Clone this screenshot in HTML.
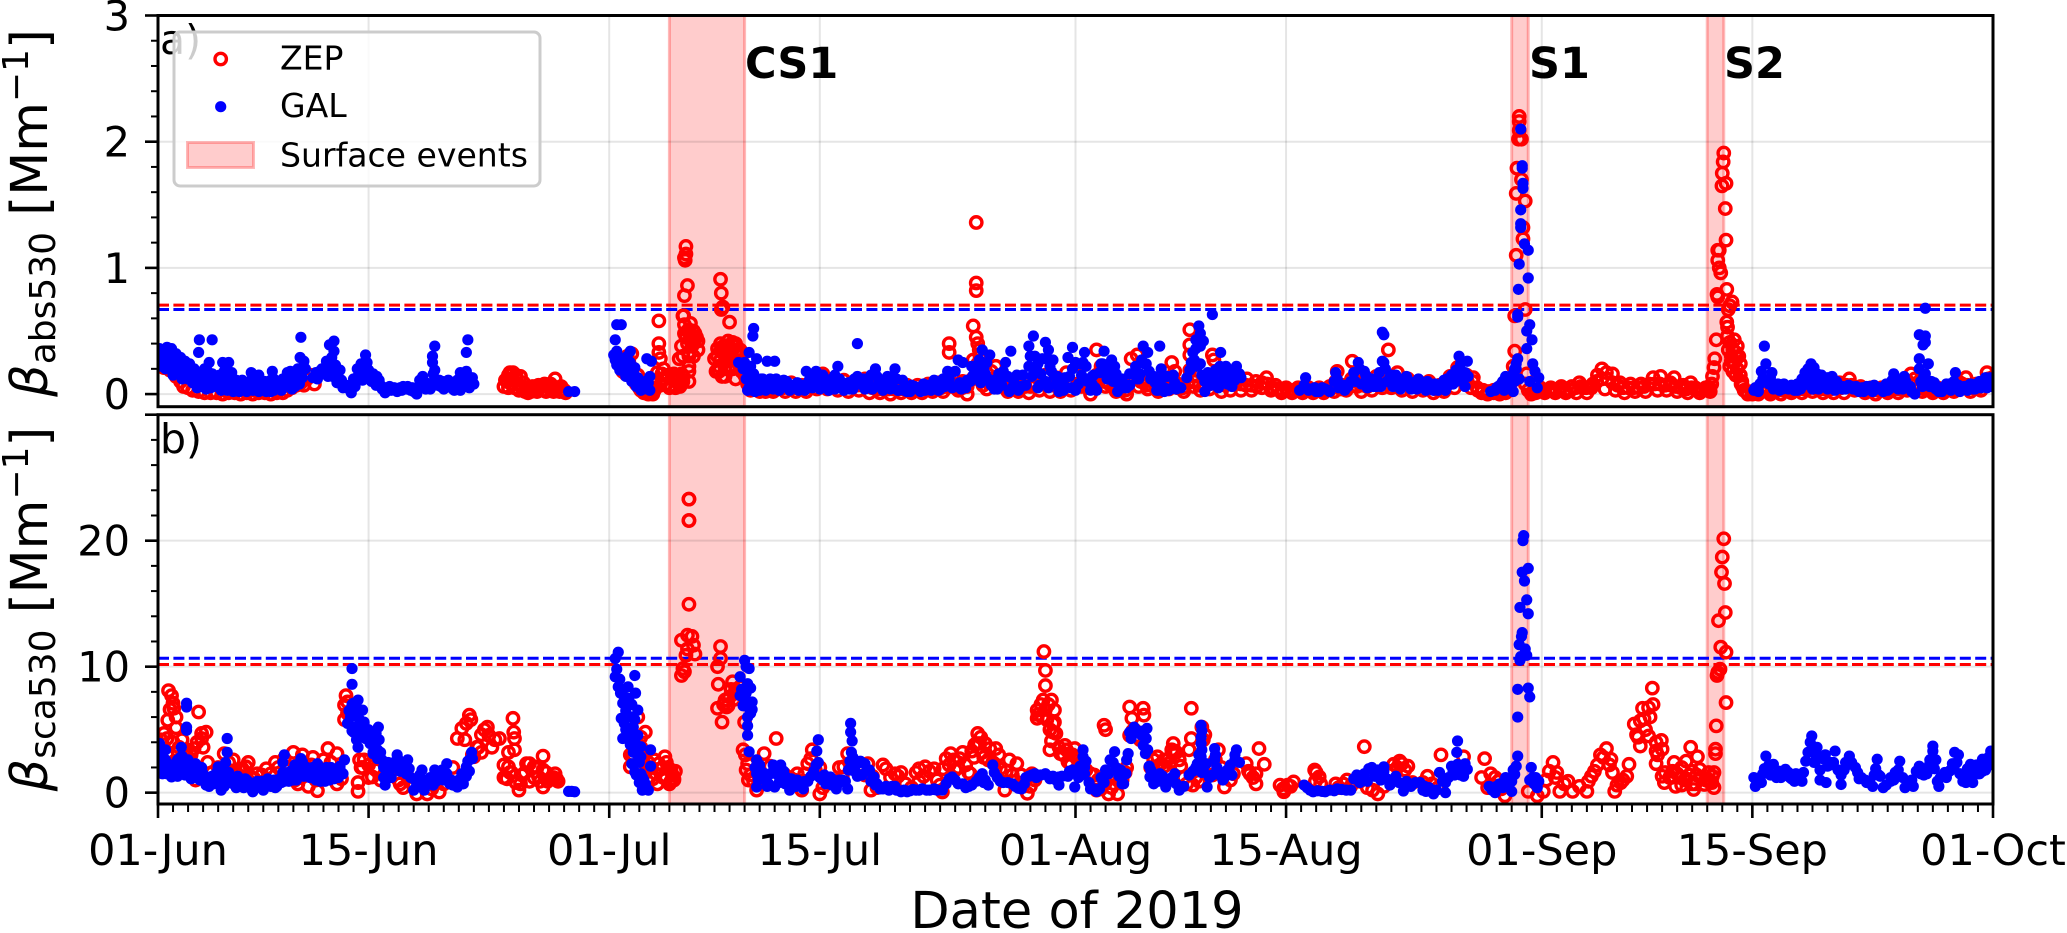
<!DOCTYPE html>
<html lang="en">
<head>
<meta charset="utf-8">
<title>Absorption and scattering coefficients, 2019</title>
<style>
html,body{margin:0;padding:0;background:#fff;width:2067px;height:933px;overflow:hidden}
svg{display:block}
text{font-family:"DejaVu Sans","Liberation Sans",sans-serif;fill:#000}
</style>
</head>
<body>
<svg id="chart" xmlns="http://www.w3.org/2000/svg" width="2067" height="933" viewBox="0 0 2067 933">
  <defs>
    <clipPath id="clipA"><rect x="158" y="15.5" width="1835" height="391"/></clipPath>
    <clipPath id="clipB"><rect x="158" y="414.7" width="1835" height="389.3"/></clipPath>
  </defs>
  <g id="panelA"></g>
  <g id="panelB"></g>
</svg>
<script>
const xTickDays = [0,14,30,44,61,75,92,106,122];
const xTickLabels = ["01-Jun","15-Jun","01-Jul","15-Jul","01-Aug","15-Aug","01-Sep","15-Sep","01-Oct"];
const absTicks = [0,1,2,3];
const scaTicks = [0,10,20,30];
const scaTickLabels = ["0","10","20",""];
const eventStarts = [34,90,103];
const eventEnds = [39,91.1,104.1];
const eventLabels = ["CS1","S1","S2"];
const absThresholds = [0.705,0.67];
const scaThresholds = [10.17,10.67];

const zepAbsDays = [
0.1,0.4,0.8,1.2,1.5,1.7,2.0,2.3,2.7,3.1,
3.5,3.9,4.3,4.7,5.1,5.5,5.9,6.3,6.7,7.1,
7.5,7.9,8.3,8.6,8.9,9.2,9.5,9.7,9.9,10.1,
10.4,23.0,23.1,23.3,23.4,23.6,23.5,23.8,24.0,24.1,
24.4,24.7,25.0,25.3,25.6,25.9,26.2,26.4,26.6,26.9,
27.0,25.1,25.7,30.9,31.2,31.5,31.4,31.7,32.0,32.3,
33.3,33.3,33.3,33.4,33.5,33.1,32.9,33.7,34.1,34.3,
34.6,34.65,34.8,34.9,35.0,35.3,35.7,35.8,35.5,35.1,
35.1,35.0,35.05,35.2,35.0,34.95,35.3,35.3,35.3,35.3,
34.9,34.8,34.7,35.6,35.9,37.4,37.45,37.5,37.45,37.55,
38.0,37.0,37.2,37.4,37.6,37.8,38.0,38.3,38.6,37.1,
37.3,37.5,37.7,38.2,38.4,38.7,39.0,39.2,39.4,39.7,
40.0,40.3,40.6,41.0,41.4,41.7,42.1,42.4,42.8,43.1,
43.5,43.8,44.2,44.5,44.9,45.2,45.6,45.9,46.3,46.6,
47.0,47.3,47.7,48.0,48.4,48.7,49.1,49.4,49.8,50.1,
50.5,50.8,51.2,51.5,51.9,52.2,52.6,52.6,52.9,53.2,
53.5,53.8,54.2,54.2,54.4,54.5,54.6,54.4,54.4,54.4,
54.4,54.7,54.9,55.1,55.4,55.7,55.9,56.2,56.5,56.9,
57.2,57.6,57.9,58.3,58.6,59.0,59.3,59.7,60.0,60.4,
60.7,61.1,61.4,61.8,62.0,62.4,62.4,62.7,63.0,63.4,
63.7,64.1,64.4,64.7,64.8,65.1,65.2,65.5,65.8,66.1,
66.5,66.9,67.2,67.4,67.6,67.8,68.2,68.6,68.6,68.6,
68.6,68.9,69.3,69.6,69.9,70.1,70.2,70.4,70.7,71.0,
71.3,71.7,72.0,72.4,72.7,73.0,73.4,73.7,74.0,74.3,
74.7,75.0,75.4,75.8,76.1,76.5,76.8,77.2,77.5,77.9,
78.2,78.4,78.7,79.0,79.4,79.7,80.0,80.4,80.7,81.0,
81.4,81.8,82.0,82.4,82.7,83.1,83.4,83.8,84.1,84.5,
84.8,85.2,85.5,85.9,86.2,86.4,86.7,87.0,87.3,87.45,
87.7,88.0,88.4,88.8,89.2,89.6,89.9,90.1,90.2,90.2,
90.3,90.3,90.35,90.5,90.5,90.5,90.45,90.65,90.65,90.9,
90.75,90.75,90.9,91.0,90.9,91.1,91.3,91.6,91.9,92.2,
92.6,92.9,93.3,93.6,94.0,94.3,94.5,94.7,95.0,95.4,
95.7,96.0,96.3,96.2,96.7,96.9,97.2,97.5,97.9,98.2,
98.6,98.9,99.4,99.7,99.9,100.3,100.8,100.6,101.0,101.4,
101.9,101.7,102.2,102.5,102.9,103.2,103.3,103.45,103.5,103.6,
104.1,104.06,104.0,104.25,103.98,104.2,104.25,103.7,103.8,103.7,
103.8,103.9,104.3,103.65,103.7,104.65,104.5,104.4,104.3,104.35,
104.35,104.8,105.0,104.5,104.6,105.0,105.2,104.4,104.7,105.3,
105.45,105.7,106.0,106.4,106.8,107.2,107.5,107.9,108.3,108.6,
109.0,109.3,109.7,110.0,110.4,110.7,111.1,111.4,111.8,112.1,
112.45,112.8,113.2,113.5,113.9,114.2,114.6,115.0,115.3,115.7,
116.0,116.3,116.55,116.9,117.3,117.6,118.0,118.3,118.7,119.0,
119.4,119.8,120.2,120.5,120.9,121.2,121.6,121.9
];
const zepAbsVals = [
.24,.21,.19,.14,.10,.06,.05,.03,.02,.01,
.01,.01,.0,.01,.01,.0,.01,.0,.01,.01,
.0,.01,.01,.03,.05,.07,.09,.07,.12,.15,
.08,.06,.11,.15,.17,.17,.08,.12,.03,.14,
.02,.05,.03,.07,.03,.07,.04,.12,.05,.02,
.03,.06,.08,.18,.30,.32,.22,.12,.05,.01,
.58,.40,.33,.28,.16,.05,.0,.12,.07,.16,
.11,.28,.38,.62,.55,.51,.48,.45,.4,1.17,
1.11,1.08,1.06,.86,.78,.62,.18,.10,.30,.22,
.14,.08,.06,.30,.35,.91,.8,.68,.67,.69,
.57,.28,.36,.40,.33,.26,.35,.38,.30,.18,
.22,.14,.14,.20,.12,.25,.15,.08,.03,.10,
.02,.08,.03,.03,.08,.02,.09,.02,.07,.02,
.10,.04,.16,.04,.12,.03,.11,.02,.10,.03,
.12,.01,.09,.01,.08,.0,.08,.01,.07,.01,
.07,.01,.08,.02,.09,.02,.40,.33,.08,.03,
.10,.0,.54,.27,.45,.40,.35,.15,.82,.88,
1.36,.2,.12,.04,.18,.22,.06,.12,.02,.10,
.02,.11,.01,.14,.03,.15,.02,.13,.02,.17,
.03,.15,.06,.08,.0,.35,.15,.22,.06,.12,
.02,.05,.0,.28,.14,.31,.06,.12,.04,.10,
.02,.13,.04,.25,.18,.08,.02,.51,.39,.31,
.19,.10,.03,.12,.04,.31,.27,.10,.02,.13,
.03,.14,.03,.12,.03,.10,.05,.13,.03,.07,
.01,.05,.01,.05,.01,.05,.01,.05,.01,.06,
.02,.18,.07,.03,.26,.10,.02,.12,.03,.14,
.05,.35,.05,.17,.03,.12,.02,.10,.03,.10,
.01,.07,.02,.14,.05,.21,.12,.15,.05,.13,
.05,.01,.0,.01,.0,.01,.08,.22,.34,.62,
1.10,1.59,1.79,2.20,2.16,2.09,2.02,2.02,1.70,1.53,
1.32,1.23,.67,.16,.08,.03,.0,.01,.05,.01,
.05,.01,.06,.01,.06,.01,.09,.05,.01,.08,
.15,.20,.17,.04,.16,.03,.09,.01,.08,.02,
.08,.02,.13,.03,.14,.03,.13,.07,.02,.07,
.09,.01,.05,.01,.05,.02,.08,.21,.28,.43,
1.91,1.84,1.75,1.67,1.65,1.47,1.22,1.14,1.14,1.06,
1.0,.96,.83,.79,.77,.73,.70,.67,.57,.53,
.46,.43,.38,.41,.26,.29,.24,.35,.18,.10,
.03,.0,.0,.0,.03,.0,.04,.0,.05,.01,
.06,.01,.08,.02,.07,.01,.07,.01,.09,.01,
.12,.03,.06,.01,.05,.0,.05,.01,.06,.01,
.07,.03,.16,.08,.02,.06,.01,.05,.01,.05,
.02,.09,.13,.02,.08,.03,.17,.10
];
const zepAbsExtraDays = [
23.2,23.3,23.5,23.7,23.8,23.9,24.2,24.3,24.5,24.6,
24.8,24.9,25.2,25.4,25.5,25.8,26.0,26.1,26.3,26.5,
26.7,26.8,27.1,31.0,31.1,31.3,31.5,31.6,31.8,31.9,
32.1,32.2,32.4,32.6,32.7,32.8,33.0,33.0,33.2,33.4,
33.5,33.6,33.8,33.9,34.0,34.2,34.4,34.5,34.7,34.8,
34.9,34.9,35.1,35.2,35.3,35.4,35.5,35.6,35.9,35.0,
35.4,35.6,35.2,37.2,37.3,37.4,37.6,37.7,37.8,37.9,
38.0,38.1,38.2,38.4,38.5,38.6,38.7,38.8,38.8,37.6,
37.9,38.2,37.4,39.1,39.3,39.5,39.6,39.9,40.1,40.4,
40.7,40.9,39.2,41.2,41.55,41.9,42.25,42.6,42.95,43.3,
43.65,44.0,44.35,44.7,45.05,45.4,45.75,46.1,46.45,46.8,
47.15,47.5,47.85,48.2,48.55,48.9,49.25,49.6,49.95,50.3,
50.65,51.0,51.35,51.7,52.05,52.4,52.75,53.1,53.45,53.8,
54.15,54.5,54.65,54.85,55.2,55.55,55.9,56.25,56.6,56.95,
57.3,57.65,58.0,58.35,58.7,59.05,59.4,59.75,60.1,60.45,
60.8,61.15,61.5,61.85,62.2,62.55,62.9,63.25,63.6,63.95,
64.3,64.65,65.0,65.35,65.7,66.05,66.4,66.75,67.1,67.45,
67.8,68.15,68.5,68.85,69.2,69.55,69.9,70.25,70.6,70.95,
71.3,71.65,72.0,72.35,72.7,73.05,73.4,73.75,74.1,74.45,
74.8,75.15,75.5,75.85,76.2,76.55,76.9,77.25,77.6,77.95,
78.3,78.65,79.0,79.35,79.7,80.05,80.4,80.75,81.1,81.45,
81.8,82.15,82.5,82.85,83.2,83.55,83.9,84.25,84.6,84.95,
85.3,85.65,86.0,86.35,86.7,87.05,87.4,87.75,88.1,88.45,
88.8,89.15,89.5,91.45,91.8,92.15,92.5,92.85,93.2,93.55,
93.9,94.25,94.6,94.95,95.3,95.65,96.0,96.35,96.7,97.05,
97.4,97.75,98.1,98.45,98.8,99.15,99.5,99.85,100.2,100.55,
100.9,101.25,101.6,101.95,102.3,102.65,103.0,103.15,103.35,104.6,
104.8,105.0,104.5,104.7,104.9,105.1,105.2,105.25,104.9,105.35,
105.6,106.0,106.3,106.65,107.0,107.35,107.7,108.05,108.4,108.75,
109.1,109.45,109.8,110.15,110.5,110.85,111.2,111.55,111.9,112.25,
112.6,112.95,113.3,113.65,114.0,114.35,114.7,115.05,115.4,115.75,
116.1,116.45,116.8,117.15,117.5,117.85,118.2,118.55,118.9,119.25,
119.6,119.95,120.3,120.65,121.0,121.35,121.7,121.95
];
const zepAbsExtraVals = [
.10,.05,.12,.05,.15,.08,.05,.09,.05,.01,
.02,.06,.02,.05,.07,.02,.05,.08,.02,.05,
.02,.06,.01,.24,.16,.26,.18,.12,.08,.15,
.03,.06,.02,.0,.01,.04,.03,.10,.17,.07,
.12,.20,.08,.15,.05,.12,.05,.14,.07,.16,
.10,.30,.45,.40,.33,.45,.38,.50,.42,.48,
.56,.43,.5,.30,.18,.27,.32,.20,.38,.30,
.22,.33,.28,.40,.35,.24,.35,.18,.30,.38,
.42,.41,.34,.12,.06,.04,.10,.03,.07,.02,
.06,.02,.1,.05,.05,.05,.05,.05,.05,.06,
.08,.10,.08,.08,.06,.08,.06,.06,.07,.07,
.06,.05,.04,.04,.04,.04,.04,.04,.04,.03,
.04,.04,.05,.05,.05,.06,.06,.05,.05,.06,
.12,.24,.30,.07,.09,.12,.10,.07,.06,.05,
.05,.06,.06,.08,.08,.08,.07,.07,.09,.10,
.08,.08,.10,.05,.05,.10,.10,.08,.06,.03,
.03,.13,.16,.10,.07,.07,.06,.07,.09,.12,
.05,.05,.09,.06,.07,.08,.08,.14,.08,.07,
.08,.09,.08,.07,.07,.06,.09,.08,.05,.04,
.03,.03,.03,.03,.03,.03,.03,.03,.03,.04,
.10,.04,.07,.12,.06,.07,.06,.08,.08,.10,
.08,.10,.10,.07,.06,.06,.06,.06,.05,.04,
.05,.08,.10,.15,.16,.10,.10,.03,.03,.02,
.03,.02,.03,.02,.03,.03,.03,.03,.04,.03,
.03,.05,.06,.05,.05,.10,.12,.12,.09,.07,
.05,.05,.05,.05,.06,.08,.08,.08,.07,.09,
.06,.05,.04,.05,.04,.03,.03,.05,.14,.30,
.25,.2,.22,.35,.33,.30,.15,.08,.15,.06,
.02,.02,.02,.02,.02,.02,.03,.03,.03,.03,
.04,.04,.05,.05,.04,.04,.04,.05,.05,.07,
.07,.04,.04,.03,.03,.03,.03,.03,.04,.04,
.05,.09,.12,.05,.04,.03,.03,.03,.03,.03,
.06,.08,.07,.05,.05,.08,.12,.13
];

const galAbsDays = [
0.1,0.3,0.2,0.6,0.9,0.7,1.2,1.1,1.5,1.4,
1.8,1.7,2.1,2.0,2.4,2.3,2.7,2.7,2.75,3.6,
2.9,3.1,3.4,3.2,3.7,3.5,3.9,4.3,4.7,4.6,
4.2,4.6,5.0,5.0,5.5,5.4,5.6,5.9,6.2,6.7,
6.5,6.3,6.9,6.7,7.2,7.6,7.5,7.5,7.9,8.2,
8.3,8.6,8.8,9.0,8.9,9.5,9.45,9.7,9.3,9.6,
10.5,10.75,10.6,11.4,11.7,11.7,11.55,11.8,12.1,11.4,
11.3,11.9,12.3,12.85,13.1,13.25,13.8,13.9,14.0,13.6,
14.55,14.8,15.1,15.5,15.9,16.3,16.8,17.2,17.6,17.8,
18.4,18.25,18.25,18.4,18.4,18.8,19.3,19.7,20.1,20.6,
20.5,20.7,20.2,20.85,20.35,27.3,27.7,30.5,30.8,30.4,
30.4,30.7,31.1,31.5,31.8,32.1,32.5,30.5,30.9,31.4,
32.5,32.8,32.7,32.3,39.6,39.55,39.3,39.8,38.6,38.9,
39.1,39.4,39.7,40.0,40.5,39.2,39.6,40.2,40.5,40.6,
41.0,41.6,42.3,43.1,43.75,44.4,45.2,45.3,46.5,46.5,
47.7,47.2,48.5,49.0,49.5,50.3,51.6,52.5,53.2,53.5,
54.1,54.0,54.8,55.3,55.0,56.35,56.7,57.4,57.9,57.9,
58.2,58.0,59.0,59.2,58.5,59.5,59.0,59.6,60.8,60.5,
61.6,60.8,61.3,62.9,63.4,62.8,63.6,62.0,62.1,63.2,
64.2,64.8,65.5,65.8,65.7,66.6,66.2,66.7,66.5,67.5,
67.9,68.6,68.8,69.0,69.2,69.3,69.5,70.1,69.3,69.6,
69.9,70.3,70.65,71.0,71.1,71.7,71.8,41.3,42.0,42.7,
43.4,44.1,44.8,45.5,46.0,46.9,47.4,48.1,48.8,49.2,
49.8,50.6,51.0,52.0,52.8,53.4,55.6,56.0,56.6,57.3,
58.6,59.9,60.3,61.0,62.4,63.8,64.6,65.2,66.9,67.3,
70.5,71.4,76.3,75.9,76.6,77.0,77.4,77.8,78.3,78.6,
78.9,79.8,80.2,80.6,81.0,81.4,81.4,81.5,81.5,81.9,
82.3,82.7,83.0,83.4,83.8,84.0,84.4,84.8,85.2,85.6,
85.9,86.2,86.5,87.05,86.6,86.9,86.3,88.6,89.0,89.3,
89.6,89.9,90.1,90.4,90.3,90.2,90.6,90.7,90.7,90.75,
90.75,90.6,90.6,90.6,90.85,91.1,90.5,91.1,90.45,90.4,
90.4,91.2,91.0,91.35,91.0,91.4,91.55,91.2,91.8,91.7,
106.1,106.4,106.6,106.9,106.8,107.3,107.5,107.9,108.3,108.7,
109.2,109.5,109.9,110.2,110.7,110.4,111.0,111.5,111.8,112.2,
112.6,113.0,113.4,113.8,114.3,114.7,115.0,115.4,115.3,115.7,
116.1,116.4,116.8,117.1,117.5,117.35,117.5,117.1,117.1,117.7,
117.5,117.5,117.9,118.4,118.8,119.1,119.5,119.5,119.9,120.4,
120.7,121.1,121.5,121.9,122.0,106.2,107.0,108.0,109.0,110.0,
111.0,112.0,113.0,114.0,115.0,116.0,118.1,119.0,120.0,121.0
];
const galAbsVals = [
.36,.30,.22,.37,.36,.26,.32,.22,.29,.20,
.26,.16,.24,.12,.20,.09,.16,.33,.43,.43,
.06,.20,.25,.04,.15,.10,.06,.25,.25,.14,
.03,.03,.05,.02,.08,.02,.11,.02,.17,.15,
.07,.03,.03,.02,.02,.18,.11,.02,.05,.03,
.12,.17,.18,.10,.04,.45,.29,.26,.20,.13,
.17,.18,.12,.39,.42,.34,.29,.23,.19,.19,
.14,.09,.05,.01,.06,.20,.31,.25,.19,.11,
.14,.07,.01,.03,.02,.06,.03,.0,.14,.04,
.38,.30,.25,.19,.12,.06,.11,.03,.17,.43,
.33,.09,.07,.10,.14,.02,.02,.55,.55,.43,
.27,.19,.14,.10,.06,.03,.06,.34,.24,.34,
.28,.26,.14,.05,.52,.46,.33,.28,.25,.20,
.12,.07,.02,.05,.26,.03,.16,.12,.04,.08,
.26,.11,.07,.18,.18,.06,.22,.12,.40,.14,
.20,.10,.14,.20,.11,.06,.11,.18,.27,.25,
.22,.10,.35,.31,.16,.25,.34,.06,.22,.38,
.46,.30,.41,.35,.24,.27,.10,.14,.37,.29,
.33,.20,.24,.34,.27,.24,.22,.03,.14,.14,
.05,.16,.38,.33,.24,.38,.14,.20,.03,.15,
.05,.19,.33,.43,.54,.48,.42,.63,.24,.02,
.12,.19,.33,.22,.08,.22,.13,.05,.04,.07,
.08,.05,.10,.06,.04,.09,.05,.05,.08,.03,
.02,.05,.03,.04,.06,.04,.04,.10,.02,.05,
.07,.02,.06,.03,.03,.02,.07,.12,.02,.04,
.05,.06,.13,.03,.04,.02,.05,.03,.17,.06,
.03,.25,.18,.08,.06,.49,.26,.47,.25,.13,
.15,.07,.14,.05,.12,.06,.10,.03,.06,.03,
.11,.15,.30,.26,.17,.06,.10,.02,.05,.08,
.14,.05,.02,.28,.20,.10,2.10,1.81,1.79,1.67,
1.63,1.46,1.35,1.32,1.19,1.14,1.03,.92,.83,.63,
.61,.55,.50,.43,.36,.24,.18,.10,.13,.05,
.03,.02,.18,.24,.38,.17,.06,.04,.06,.05,
.04,.17,.24,.12,.13,.04,.13,.03,.06,.04,
.06,.03,.02,.06,.04,.02,.04,.16,.06,.04,
.14,.05,.0,.47,.46,.39,.41,.28,.20,.24,
.68,.16,.10,.02,.05,.08,.17,.06,.03,.07,
.04,.10,.13,.06,.10,.05,.10,.04,.03,.04,
.04,.04,.03,.02,.03,.04,.09,.05,.04,.05
];
const galAbsExtraDays = [
0.2,0.5,0.8,1.0,1.3,1.6,1.9,2.2,2.5,2.6,
2.8,3.0,3.2,3.3,3.5,3.6,3.8,4.0,4.1,4.4,
4.4,4.8,4.9,5.2,5.2,5.7,6.0,6.1,6.4,6.6,
6.8,7.0,7.1,7.3,7.4,7.7,7.7,8.0,8.1,8.4,
8.5,8.7,8.8,9.1,9.2,9.4,9.1,9.6,9.8,9.4,
10.3,10.9,11.1,11.2,11.5,11.6,11.9,12.0,12.2,12.5,
12.7,12.9,13.0,13.2,13.4,13.5,13.6,13.7,14.1,14.2,
14.3,14.5,14.7,14.9,15.2,15.4,15.7,15.8,16.1,16.2,
16.5,16.6,16.9,17.0,17.3,17.4,17.5,17.8,18.0,18.1,
18.3,18.5,18.6,18.7,18.9,19.0,19.1,19.5,19.6,19.9,
20.0,20.3,20.4,20.5,20.6,20.9,21.0,20.1,20.7,20.8,
30.3,30.5,30.6,30.8,30.9,31.0,31.2,31.2,31.3,31.4,
31.6,31.7,31.7,31.9,32.0,32.2,32.3,32.4,32.6,32.7,
39.0,39.2,39.4,39.5,39.7,39.9,40.1,39.3,39.5,39.8,
40.0,40.3,40.4,40.7,40.9,40.8,41.1,41.3,41.5,41.8,
42.0,42.1,42.5,42.6,42.9,43.0,43.3,43.5,43.6,43.9,
44.0,44.2,44.4,44.6,44.8,45.0,45.0,45.4,45.6,45.7,
45.9,46.2,46.3,46.7,46.9,47.0,47.4,47.5,47.8,47.9,
48.2,48.3,48.7,48.8,49.1,49.2,49.6,49.8,50.0,50.1,
50.5,50.7,50.9,51.3,51.4,51.8,51.9,52.2,52.3,52.6,
52.8,53.0,53.1,53.3,53.7,53.8,54.2,54.4,54.5,54.6,
54.7,54.9,55.1,55.2,55.4,55.6,55.8,55.9,56.1,56.2,
56.5,56.8,56.9,57.1,57.2,57.5,57.7,58.0,58.1,58.3,
58.4,58.5,58.7,58.8,59.1,59.3,59.2,59.4,59.7,59.8,
60.1,60.2,60.3,60.6,60.7,61.0,61.2,61.4,61.5,61.7,
61.8,62.1,62.2,62.3,62.6,62.7,63.0,63.1,63.3,63.5,
63.7,63.9,64.1,64.4,64.6,65.0,65.1,65.3,65.4,65.6,
65.9,66.0,66.3,66.4,66.7,66.9,67.1,67.2,67.6,67.7,
68.0,68.4,68.7,68.9,69.0,69.1,69.3,69.4,69.6,69.8,
70.0,70.2,70.4,70.6,70.8,70.9,71.2,71.3,71.5,71.6,
71.9,72.0,76.2,76.5,76.9,77.2,77.6,77.9,78.2,78.4,
78.5,78.8,79.1,79.3,79.5,79.6,79.9,80.0,80.3,80.4,
80.7,80.8,81.1,81.2,81.3,81.6,81.7,82.0,82.1,82.5,
82.6,82.9,83.2,83.3,83.6,83.7,84.2,84.3,84.6,84.9,
85.1,85.4,85.5,85.7,85.8,86.0,86.1,86.3,86.6,86.7,
86.9,87.1,88.9,89.1,89.4,89.5,89.7,90.0,90.1,90.2,
90.3,90.5,106.5,106.7,107.1,107.2,107.4,107.7,107.8,108.1,
108.4,108.6,108.8,109.0,109.3,109.4,109.7,109.8,110.0,110.1,
110.3,110.5,110.6,110.9,111.1,111.3,111.4,111.6,112.0,112.4,
112.7,112.9,113.1,113.3,113.6,113.9,114.1,114.5,114.8,114.9,
115.1,115.3,115.5,115.6,115.9,116.0,116.2,116.5,116.6,117.2,
117.3,117.4,117.6,117.8,118.0,118.2,118.5,118.6,118.9,119.2,
119.4,119.7,119.8,120.1,120.3,120.5,120.8,120.9,121.2,121.3,
121.6,121.8
];
const galAbsExtraVals = [
.28,.20,.30,.15,.26,.12,.20,.14,.12,.05,
.10,.14,.12,.18,.05,.16,.12,.10,.15,.08,
.18,.07,.17,.05,.11,.05,.06,.10,.12,.12,
.08,.06,.10,.05,.07,.03,.12,.09,.06,.06,
.10,.07,.12,.14,.10,.15,.06,.19,.20,.08,
.13,.20,.16,.26,.21,.14,.16,.13,.11,.07,
.04,.05,.12,.13,.15,.24,.21,.16,.13,.10,
.16,.07,.11,.04,.05,.06,.05,.03,.05,.03,
.04,.06,.05,.02,.05,.11,.05,.09,.08,.04,
.16,.08,.07,.11,.10,.04,.07,.08,.04,.11,
.07,.14,.06,.18,.12,.13,.08,.03,.05,.08,
.31,.23,.30,.26,.20,.27,.22,.30,.17,.25,
.17,.21,.10,.13,.08,.09,.04,.10,.09,.03,
.25,.18,.22,.16,.12,.08,.12,.05,.03,.05,
.03,.07,.03,.12,.04,.07,.12,.03,.08,.10,
.03,.07,.09,.03,.07,.03,.11,.05,.13,.10,
.04,.15,.10,.03,.12,.15,.04,.09,.03,.07,
.09,.04,.12,.08,.12,.04,.15,.04,.14,.08,
.03,.10,.04,.13,.12,.03,.03,.05,.02,.07,
.04,.02,.08,.07,.03,.06,.03,.12,.06,.12,
.05,.18,.06,.09,.05,.11,.15,.22,.14,.27,
.09,.20,.25,.12,.07,.11,.04,.16,.07,.18,
.14,.05,.10,.15,.03,.15,.07,.30,.14,.30,
.20,.05,.16,.28,.28,.22,.05,.18,.08,.14,
.10,.03,.13,.14,.05,.25,.08,.15,.25,.22,
.10,.08,.15,.05,.17,.24,.20,.12,.17,.10,
.16,.06,.12,.05,.16,.22,.12,.16,.27,.24,
.18,.12,.09,.03,.12,.05,.14,.03,.09,.04,
.05,.13,.25,.27,.36,.22,.38,.15,.10,.17,
.07,.12,.10,.22,.17,.10,.16,.09,.18,.11,
.16,.13,.07,.03,.05,.02,.04,.02,.10,.12,
.05,.07,.06,.10,.17,.10,.20,.08,.15,.05,
.12,.06,.10,.17,.06,.20,.10,.15,.06,.12,
.04,.07,.10,.04,.08,.04,.09,.03,.07,.08,
.03,.05,.11,.12,.07,.15,.08,.19,.24,.12,
.17,.14,.03,.06,.10,.03,.08,.12,.16,.20,
.24,.12,.08,.12,.08,.13,.04,.08,.03,.08,
.04,.07,.03,.08,.12,.07,.20,.10,.14,.21,
.16,.08,.15,.12,.05,.14,.08,.10,.06,.07,
.04,.06,.02,.05,.06,.03,.07,.05,.03,.08,
.04,.11,.12,.07,.06,.12,.10,.06,.02,.10,
.06,.14,.10,.06,.08,.04,.05,.02,.08,.03,
.10,.07,.02,.06,.03,.08,.04,.08,.05,.10,
.05,.13
];

const zepScaDays = [
0.7,0.9,1.0,1.05,0.65,1.2,0.4,0.2,2.7,2.9,
3.2,2.9,2.4,1.4,2.5,1.8,2.1,1.1,0.3,0.6,
3.6,4.4,4.7,5.0,5.4,5.85,6.2,6.6,7.2,7.8,
8.2,8.6,9.0,9.6,10.3,11.3,11.9,10.6,10.0,9.3,
11.9,10.6,10.9,11.5,12.5,12.4,12.6,13.3,13.3,13.4,
13.6,14.25,14.4,14.0,15.2,16.1,17.2,17.9,18.7,16.6,
19.9,20.2,20.7,20.8,21.7,22.0,21.5,21.0,21.2,22.7,
23.6,23.65,23.7,23.7,23.3,23.3,23.2,23.5,24.0,24.2,
24.5,25.0,25.6,25.6,25.6,26.1,26.5,25.3,24.7,31.9,
32.4,32.1,31.4,31.4,32.7,33.2,33.7,33.9,34.2,34.0,
33.4,32.9,34.3,34.8,35.2,35.5,35.6,35.7,34.9,34.8,
35.3,35.3,35.3,35.0,37.4,37.4,37.2,37.25,37.2,37.5,
38.2,38.0,37.7,37.8,38.4,37.9,39.0,38.9,39.2,39.25,
39.8,40.3,41.1,40.7,40.1,43.5,43.2,44.0,44.0,43.0,
42.3,42.8,45.6,45.85,47.2,48.2,47.4,49.0,49.4,50.6,
51.0,51.6,50.6,52.15,52.4,52.7,53.5,53.2,54.0,54.25,
54.5,54.4,55.0,54.9,55.7,55.6,56.6,57.1,56.3,57.8,
58.1,58.9,59.0,59.0,58.85,59.4,58.45,58.45,59.6,59.5,
59.5,59.3,60.3,60.0,60.95,60.5,61.3,62.25,62.9,63.0,
62.4,63.2,63.8,63.9,64.6,64.75,65.5,65.55,64.6,64.9,
66.45,66.9,67.5,67.6,67.9,67.1,68.7,68.7,68.55,69.4,
69.5,68.4,70.5,70.9,72.35,72.6,73.0,73.2,73.55,74.6,
74.85,75.5,76.9,77.2,76.95,78.3,79.05,80.2,80.75,81.1,
82.55,82.15,83.1,84.4,85.3,86.8,88.2,88.0,88.9,88.4,
89.55,91.1,91.7,92.1,92.5,92.75,93.0,93.2,93.75,94.05,
95.0,95.1,95.5,95.9,96.3,96.6,96.7,96.85,97.25,97.65,
97.8,99.35,99.4,99.1,98.7,98.8,98.15,98.55,98.4,98.55,
99.1,99.95,100.0,99.6,99.6,100.0,100.15,100.8,101.2,101.6,
101.9,102.35,102.0,102.1,102.5,102.8,103.45,103.45,103.0,101.6,
100.6,100.9,101.3,102.2,103.1,104.1,104.0,103.95,104.15,104.2,
103.75,103.9,104.25,103.85,103.65,103.7,104.25,103.6,103.55,103.55,
35.3,35.3
];
const zepScaVals = [
8.1,7.7,7.1,6.7,5.75,5.15,4.7,4.2,6.4,4.7,
4.8,4.3,3.5,3.6,1.0,3.2,2.6,2.5,3.4,3.0,
1.6,3.1,2.4,2.6,1.8,2.05,1.2,1.5,1.9,2.4,
1.2,1.8,3.2,3.0,2.8,3.5,3.1,.15,.5,.7,
.7,2.05,1.3,1.8,7.7,6.95,6.3,.8,.1,2.6,
2.0,1.25,1.9,2.2,1.5,.7,-.1,-.1,.05,1.25,
4.3,5.1,6.15,5.8,5.0,4.55,3.2,2.85,3.6,4.3,
5.9,4.8,4.3,3.4,3.2,2.05,1.1,1.6,.2,1.4,
2.3,2.05,2.9,1.8,.45,1.1,1.1,1.25,.9,6.0,
4.8,3.6,3.0,2.05,1.25,.7,2.85,2.0,1.4,.7,
1.9,1.1,1.1,12.1,12.5,12.4,11.7,11.0,9.85,9.3,
23.3,21.6,14.95,9.6,11.6,10.65,10.0,8.6,6.7,5.6,
8.8,7.6,7.35,6.8,8.2,7.0,5.6,3.4,2.3,1.0,
.2,3.1,4.3,2.1,1.2,3.4,2.3,-.1,2.0,1.5,
1.0,.2,2.05,3.1,2.3,2.2,.2,1.5,1.6,1.9,
2.05,1.9,.9,.05,2.7,3.1,3.2,2.0,1.5,2.8,
4.7,3.9,3.9,2.8,3.5,2.3,2.6,2.3,.2,-.05,
1.5,11.2,9.7,8.5,7.35,7.35,6.55,5.9,6.55,5.5,
4.8,3.4,3.75,3.1,3.5,2.45,2.2,1.4,5.35,5.0,
.2,-.1,-.1,.9,6.8,5.9,6.7,6.15,4.55,5.0,
2.85,2.1,3.9,3.3,2.6,2.6,6.7,4.3,3.4,5.2,
4.2,.7,3.4,.45,2.3,1.5,.7,3.5,2.25,.6,
.07,.85,1.8,1.25,.9,.7,1.0,3.65,.2,-.1,
2.5,2.25,2.1,1.3,3.0,2.85,2.7,1.2,1.2,.4,
-.25,.1,-.25,.1,1.7,2.4,1.6,.1,.9,.1,
.1,.9,1.7,3.0,3.5,2.65,1.6,.1,.8,1.3,
2.25,8.3,7.0,6.75,6.7,5.85,5.45,5.7,4.4,3.7,
4.5,4.15,3.45,3.3,2.3,1.3,.8,2.4,1.2,2.5,
3.6,2.85,1.7,.25,1.85,.65,.4,1.6,1.1,1.1,
1.2,.5,.6,.7,.9,20.15,18.7,17.5,16.6,14.3,
13.65,11.55,11.15,9.8,9.3,9.55,7.15,5.3,3.45,3.1,
23.3,21.6
];
const zepScaExtraDays = [
0.6,0.8,1.0,1.2,1.6,1.9,2.2,2.6,3.0,3.3,
4.0,4.3,4.6,5.2,5.6,6.0,6.4,6.9,7.5,8.0,
8.4,8.8,9.1,9.5,9.9,10.2,10.5,11.0,11.5,12.2,
12.4,12.6,12.7,13.5,13.7,14.0,14.5,14.8,15.5,16.0,
16.3,17.0,17.5,18.2,18.4,19.0,19.6,20.4,20.5,20.9,
21.3,21.5,21.9,22.2,22.4,23.0,23.0,23.4,23.8,24.1,
24.4,24.7,25.0,25.2,25.4,25.8,25.9,26.3,26.6,26.4,
31.6,31.8,31.9,32.1,32.2,32.4,32.6,32.8,33.0,33.1,
33.3,33.5,33.6,33.8,34.1,34.1,34.3,34.4,35.1,35.2,
37.6,37.9,38.1,38.3,38.5,38.7,39.05,39.1,39.4,39.6,
41.6,42.0,42.5,42.9,43.4,43.7,44.2,44.5,45.0,45.3,
45.5,46.1,46.6,47.0,47.5,47.8,48.4,48.7,49.2,49.7,
50.1,50.4,50.9,51.3,51.8,52.0,52.2,52.6,52.9,53.0,
53.3,53.7,53.9,54.1,54.3,54.6,54.7,54.8,55.2,55.3,
55.5,55.9,56.0,56.4,56.8,57.0,57.4,57.5,58.0,58.3,
58.5,58.7,58.8,59.0,59.2,59.1,59.3,59.6,59.7,59.4,
59.9,60.2,60.4,60.6,60.8,60.7,61.1,61.4,61.7,62.0,
62.5,62.7,63.0,63.4,64.1,64.3,64.4,64.8,65.0,65.3,
66.0,66.2,66.6,66.9,67.1,67.3,67.4,67.7,68.0,68.2,
68.8,69.0,69.2,69.6,69.8,70.1,70.3,70.7,71.3,71.5,
72.5,72.8,73.0,74.8,75.1,75.3,77.0,77.3,78.5,78.8,
79.3,79.9,80.4,81.5,82.0,82.4,82.7,82.9,83.4,84.1,
84.7,85.1,88.6,88.7,89.1,89.3,92.3,92.9,93.5,94.5,
95.3,95.7,96.1,96.5,97.0,97.4,98.3,98.9,99.2,99.6,
99.7,100.2,100.5,100.7,101.0,101.3,101.5,101.8,102.0,102.3,
102.6,102.9,103.1,103.3,103.35
];
const zepScaExtraVals = [
4.3,6.6,4.0,6.0,4.2,3.4,3.0,4.0,3.6,2.4,
2.0,.9,1.4,1.5,1.9,2.4,1.1,1.4,1.5,2.0,
2.7,2.0,1.0,1.2,1.5,2.2,1.0,2.6,2.4,1.1,
5.8,7.2,6.4,2.0,2.6,1.2,1.8,1.0,2.0,1.0,
.4,.5,.9,.3,.9,.7,2.0,4.2,5.5,3.0,
3.6,4.6,5.2,3.6,4.2,1.2,2.2,1.6,.8,.7,
1.6,2.3,1.2,2.0,.9,1.6,.9,1.2,.9,1.5,
3.0,4.2,2.0,4.4,2.8,1.6,2.4,2.0,2.6,1.5,
2.3,1.9,1.2,2.4,.9,1.8,1.0,1.7,10.9,11.4,
7.0,6.9,8.2,7.4,7.9,8.4,3.0,1.8,1.4,.9,
1.5,1.2,1.5,.9,2.7,1.8,.4,1.0,.9,2.0,
1.2,2.2,1.8,1.4,1.3,.4,1.9,1.2,1.3,.7,
.4,1.6,1.3,1.7,1.0,.6,1.9,2.2,2.6,1.8,
2.7,2.2,1.6,3.3,3.8,3.9,4.4,3.2,2.6,3.5,
2.4,3.0,1.9,1.7,1.4,.9,1.4,.5,.5,1.0,
6.2,7.0,6.0,6.6,7.0,5.8,5.0,5.6,4.7,4.1,
3.6,3.0,3.4,3.1,3.0,2.2,2.7,2.0,1.8,1.5,
1.0,.3,.8,.4,1.0,1.6,2.0,4.9,4.5,4.2,
2.0,2.6,2.2,2.6,1.8,2.4,3.4,3.2,2.1,1.2,
.6,1.2,.9,4.6,1.9,1.4,2.6,2.0,1.0,1.5,
1.7,1.2,1.5,.3,.6,.5,1.6,.7,.4,.7,
.5,.9,.4,.5,1.7,2.0,2.3,1.8,.8,.8,
.7,.4,1.5,.6,.9,.3,1.0,1.2,.7,.5,
1.3,2.2,2.8,2.2,.6,1.0,4.6,5.0,6.0,4.0,
3.0,1.6,1.2,1.7,1.5,2.0,1.0,1.4,.7,1.4,
1.2,1.0,1.6,.8,1.3
];

const galScaDays = [
0.1,0.2,0.4,0.3,0.5,0.7,0.9,1.1,1.4,1.55,
1.3,1.6,1.9,1.9,1.9,1.9,2.2,2.5,2.9,3.2,
2.0,2.3,2.7,3.5,3.8,4.0,4.2,4.6,4.6,4.3,
5.0,5.3,5.6,5.9,6.3,6.6,7.0,7.3,7.6,7.9,
8.4,8.3,8.5,8.2,8.8,9.0,9.3,9.6,10.0,10.3,
10.6,10.6,10.9,11.3,11.6,11.9,12.1,12.4,11.1,11.7,
12.9,12.9,13.3,13.0,13.6,12.8,12.6,13.0,13.3,13.9,
14.65,14.4,13.3,14.6,14.9,13.5,14.1,13.7,14.3,15.1,
15.4,15.9,16.6,16.3,17.0,17.55,17.3,17.7,18.1,18.4,
19.2,18.8,19.5,19.9,20.2,20.5,20.85,20.7,30.6,30.4,
30.4,30.6,30.75,31.25,31.75,31.7,30.9,31.9,30.8,31.2,
31.6,31.9,30.9,31.4,32.1,32.75,32.1,31.5,32.75,31.7,
32.2,32.4,32.2,32.6,39.0,39.3,38.7,39.2,38.7,39.0,
39.5,39.3,39.2,39.2,39.3,39.8,39.8,39.8,41.0,41.0,
40.3,40.6,41.4,41.8,42.0,42.3,43.0,42.6,43.75,43.9,
43.8,44.2,44.7,45.1,45.5,45.85,46.05,46.05,46.15,46.1,
46.0,46.0,46.5,46.5,47.0,47.6,47.7,48.2,49.0,49.4,
49.8,50.4,51.1,51.6,52.15,52.8,53.5,54.1,54.8,54.9,
55.5,55.8,56.5,57.4,57.9,58.4,59.0,59.5,59.9,59.9,
60.8,61.5,61.5,61.6,60.95,62.0,62.4,63.0,62.8,63.6,
63.3,63.8,64.35,64.1,64.5,64.9,64.6,65.75,65.4,65.5,
65.65,65.9,65.95,66.6,66.2,67.0,67.6,67.9,68.55,69.35,
69.35,69.4,69.35,69.1,69.7,70.25,70.25,69.75,69.4,70.8,
71.1,71.7,71.6,71.2,76.2,76.8,77.6,78.4,79.0,79.7,
80.5,81.2,81.5,81.5,82.3,81.9,82.8,83.0,83.9,84.1,
84.5,84.8,85.6,85.2,85.6,86.0,86.4,86.35,86.4,86.8,
87.05,86.8,88.5,88.9,89.6,90.0,89.2,90.2,90.4,90.3,
90.8,90.75,91.1,90.7,90.85,91.0,90.55,91.1,90.7,90.65,
90.5,90.9,91.0,90.6,90.55,90.4,91.1,91.2,90.4,91.3,
91.4,91.8,91.7,91.2,106.1,106.2,106.6,106.9,107.0,107.4,
107.5,108.2,108.5,108.9,109.3,109.55,109.95,109.85,110.3,110.2,
110.9,110.85,111.5,111.2,111.9,111.9,112.45,112.85,113.25,114.0,
114.3,114.4,114.7,115.4,115.8,115.6,116.15,116.7,117.1,117.4,
118.0,118.0,117.8,118.4,118.7,119.45,119.7,120.0,119.45,120.65,
120.5,121.3,121.3,121.85,121.7,121.0,107.9,112.3,113.7,115.2,
116.4,118.9,119.2,120.2,113.6,117.6,109.0,110.5,121.95,118.3
];
const galScaVals = [
3.9,3.1,2.0,1.5,2.6,1.6,1.25,1.8,2.0,3.6,
2.6,2.9,7.1,6.8,5.2,4.95,1.1,2.3,2.0,.6,
1.6,1.8,1.1,1.0,1.4,2.05,.2,4.3,3.2,1.0,
.7,1.3,.9,1.0,.07,.9,.2,1.1,.7,.5,
3.0,2.4,1.2,.8,1.7,1.0,1.7,2.45,1.6,2.0,
2.3,1.25,1.7,1.25,1.3,1.6,1.9,2.6,.9,1.1,
9.85,8.6,7.35,7.1,6.55,6.0,5.5,4.8,5.1,4.7,
5.2,4.4,3.6,3.4,2.6,4.4,3.9,5.6,3.2,.6,
1.8,3.0,2.6,2.0,.2,1.8,.8,.2,1.2,1.8,
2.3,1.2,1.0,.45,1.0,2.05,3.2,2.6,11.15,10.65,
9.2,8.4,7.9,8.4,7.9,9.3,7.1,6.55,5.9,7.0,
5.2,4.55,4.3,3.8,3.65,3.4,2.85,2.3,2.1,1.65,
1.25,.7,.2,.2,10.5,9.85,9.2,8.65,7.7,7.35,
7.2,6.7,6.0,4.55,3.25,2.6,1.5,.45,2.05,.45,
1.25,.7,2.2,1.2,.2,.9,.9,.6,2.2,4.2,
3.3,1.0,1.25,.3,1.0,.3,5.5,4.8,4.1,3.2,
2.5,1.8,2.3,1.3,2.3,1.25,.6,.3,.5,.07,
.07,.2,.2,.25,.2,1.25,.7,.6,1.5,.8,
2.2,1.2,.8,.3,1.3,1.2,1.5,1.3,1.25,.6,
1.8,3.4,2.85,2.0,.45,.3,.1,1.8,1.0,3.25,
2.6,1.8,1.5,.7,3.1,5.2,4.8,5.1,4.55,3.75,
3.1,2.1,1.25,1.5,.7,.45,1.5,.2,1.4,5.35,
4.4,3.4,2.85,2.3,2.3,3.5,2.6,.45,1.6,1.0,
1.8,3.4,2.6,1.8,.6,.07,.07,.3,.2,1.4,
1.9,1.4,2.05,1.7,1.3,.6,.13,.9,.8,.2,
.4,-.1,0,1.6,.8,2.1,4.1,3.2,2.25,1.85,
1.85,1.3,.5,0,1.2,.1,.7,1.45,2.9,2.1,
20.4,20.0,17.8,17.5,16.8,15.3,14.7,14.2,12.7,12.4,
11.75,11.4,10.9,10.8,10.5,8.2,8.3,7.6,6.0,2.0,
1.2,.9,.4,1.0,1.2,.5,.8,2.9,1.85,2.25,
1.4,1.85,1.2,1.5,.9,2.5,4.5,4.0,3.6,2.5,
.8,3.0,3.3,2.2,.65,1.4,2.9,2.0,1.2,.5,
2.65,1.4,.4,1.0,2.5,1.4,.4,.5,2.1,1.4,
3.7,3.3,2.3,.5,1.4,3.2,3.0,.9,2.2,.8,
2.25,2.65,1.7,3.3,2.8,1.5,1.2,2.2,.8,1.2,
.9,1.2,1.8,.8,.8,1.5,1.2,1.0,3.0,.9
];
const galScaExtraDays = [
0.1,0.3,0.5,0.6,0.8,1.0,1.2,1.3,1.5,1.7,
1.8,2.0,2.1,2.3,2.4,2.6,2.8,3.0,3.1,3.3,
3.4,3.6,3.7,3.9,4.1,4.3,4.4,4.5,4.7,4.8,
5.1,5.2,5.5,5.7,5.8,6.1,6.2,6.5,6.8,6.9,
7.1,7.2,7.5,7.7,7.8,8.1,8.3,8.4,8.6,8.7,
8.9,9.1,9.2,9.4,9.5,9.7,9.9,10.1,10.4,10.5,
10.7,10.8,11.0,11.2,11.4,11.5,11.7,12.0,12.1,12.3,
12.7,12.9,13.1,13.2,13.4,13.1,12.9,13.5,13.7,13.2,
13.4,13.8,14.0,14.2,14.4,14.5,14.7,14.3,14.6,14.8,
15.0,15.0,15.2,15.3,15.5,15.7,15.8,16.0,16.1,16.4,
16.5,16.7,16.8,17.1,17.2,17.4,17.6,17.8,18.0,18.2,
18.3,18.5,18.6,18.9,19.0,19.2,19.4,19.6,19.8,20.0,
20.2,20.3,20.5,20.6,20.7,20.9,27.3,27.7,27.5,31.0,
30.5,30.7,30.9,31.0,31.1,31.3,31.5,31.5,31.1,31.7,
31.3,31.7,31.9,31.6,32.0,31.8,32.1,32.3,32.0,32.5,
38.8,38.9,39.1,39.1,39.4,39.4,39.2,39.5,39.7,39.9,
40.0,40.2,40.4,40.5,40.7,40.9,41.2,41.3,41.6,41.7,
41.9,42.1,42.4,42.5,42.8,42.9,43.2,43.4,43.6,43.9,
44.0,44.3,44.4,44.8,44.9,45.2,45.3,45.7,45.9,46.2,
46.3,46.4,46.7,46.8,47.1,47.3,47.4,47.8,48.0,48.4,
48.6,48.8,49.1,49.6,50.0,50.2,50.6,50.8,51.3,51.6,
51.8,52.4,52.6,53.0,53.2,53.7,53.9,54.4,54.6,55.0,
55.2,55.6,56.0,56.2,56.8,57.0,57.2,57.6,57.7,58.1,
58.3,58.7,59.2,59.3,59.7,60.1,60.5,60.6,61.2,61.3,
61.4,61.7,61.6,61.9,62.2,62.6,62.7,62.9,63.2,63.5,
63.7,63.9,64.0,64.2,64.4,64.7,65.1,65.2,65.5,65.7,
65.8,66.0,66.4,66.5,66.8,67.2,67.4,67.7,68.2,68.8,
69.0,69.2,69.3,69.35,69.4,69.5,69.9,70.1,70.3,70.4,
70.6,70.9,71.0,71.3,71.4,71.6,71.9,76.4,76.6,77.1,
77.4,77.9,78.2,78.7,79.3,79.5,79.9,80.2,80.4,80.7,
80.9,81.1,81.3,81.7,82.0,82.5,83.3,83.6,84.2,84.3,
85.0,85.4,85.8,86.1,86.2,86.6,86.9,88.7,89.0,89.4,
89.8,90.0,90.1,91.5,91.6,106.3,106.5,106.7,106.8,107.1,
107.2,107.6,107.8,108.0,108.4,108.6,108.8,109.1,109.4,109.7,
110.0,110.1,110.4,110.5,110.7,111.0,111.2,111.4,111.7,112.1,
112.2,112.6,113.0,113.1,113.5,113.8,114.1,114.2,114.5,114.9,
115.2,115.5,115.7,116.0,116.3,116.6,116.9,117.2,117.5,117.8,
118.1,118.2,118.5,118.8,119.1,119.3,119.6,119.8,120.1,120.3,
120.5,120.8,120.9,121.1,121.2,121.5,121.6,121.8,121.9,121.95
];
const galScaExtraVals = [
2.4,1.7,3.4,1.5,2.0,1.5,2.4,1.3,2.8,2.0,
1.4,2.6,1.7,2.2,1.3,1.7,1.0,1.5,.9,1.2,
.5,1.3,.7,1.6,1.0,1.7,.5,2.4,1.6,.9,
1.1,.4,.7,.4,1.1,.8,.3,.6,.4,.9,
.5,.9,.5,1.0,.4,1.1,1.6,.9,1.5,.9,
1.1,2.2,1.0,1.6,2.7,1.3,2.0,1.2,1.7,1.0,
1.8,.9,1.4,2.0,1.0,2.0,1.6,1.2,2.1,1.5,
6.5,7.0,6.3,6.8,5.8,5.2,4.9,4.9,5.5,4.2,
4.5,4.3,5.0,3.9,3.6,4.7,4.2,3.1,2.7,3.2,
2.0,1.2,1.4,2.4,1.2,2.4,2.0,2.6,1.7,2.4,
1.5,1.9,1.2,1.0,.6,1.4,1.0,.6,1.0,1.2,
.6,.9,1.5,1.8,1.0,1.5,.7,.6,.9,1.0,
1.5,.7,1.3,2.5,1.7,2.7,.1,.07,.1,5.5,
9.8,9.0,8.2,7.6,6.5,7.5,7.0,6.0,5.0,5.8,
4.6,4.2,3.0,3.2,2.4,1.4,1.5,1.0,.8,.3,
8.2,6.9,10.0,7.9,8.3,6.3,5.3,6.6,2.0,1.0,
2.2,1.6,1.0,.5,1.5,2.2,1.4,.8,1.7,.7,
.6,1.1,.5,1.0,.8,.3,.9,1.3,1.7,2.4,
1.2,1.4,.7,.6,1.0,.7,1.0,.9,1.8,2.8,
2.1,1.6,2.5,1.4,1.7,1.8,.9,.7,.3,.5,
.2,.5,.2,.2,.15,.25,.2,.3,.2,.3,
.2,.7,1.1,1.0,.7,.4,.5,.9,1.2,1.0,
.6,1.6,.9,.8,.7,.5,.35,.7,1.2,1.4,
1.5,1.4,1.3,1.1,1.0,1.3,1.3,1.7,1.2,2.1,
1.4,2.5,1.5,.8,.3,.3,1.2,.8,1.5,2.4,
2.0,1.3,1.8,.7,2.6,4.3,4.8,4.9,4.9,4.3,
3.4,1.8,1.2,.9,1.3,.9,1.2,.7,.5,1.7,
2.0,3.0,2.4,3.9,4.9,1.8,1.2,1.4,3.0,2.0,
1.4,1.2,1.6,2.2,1.4,3.0,2.4,.4,.2,.15,
.1,.2,.15,.25,.2,1.1,.8,1.5,.9,2.0,
1.3,1.8,1.0,1.1,.8,.8,.5,.8,.5,.1,
.2,.9,1.2,1.7,1.4,1.4,2.3,.2,.5,.4,
.5,.9,1.8,.7,1.2,1.0,1.2,1.5,1.9,2.2,
1.4,1.2,1.7,1.4,1.6,1.1,.9,1.0,1.6,3.2,
3.2,2.4,2.9,1.8,2.7,2.1,2.4,2.4,1.8,1.8,
2.4,2.4,1.6,1.1,1.0,.9,1.4,1.9,1.3,.6,
.9,1.6,1.8,1.2,.8,1.0,1.7,1.5,1.9,2.6,
1.9,2.6,1.2,1.6,1.7,2.3,2.4,1.5,1.4,1.9,
1.2,1.5,2.2,1.5,2.1,1.8,2.5,2.2,2.8,2.4
];

const SVGNS = "http://www.w3.org/2000/svg";
const plotLeft = 158, plotRight = 1993;
const absTop = 15.5, absBottom = 406.7, scaTop = 414.7, scaBottom = 804;
function xScale(d){ return plotLeft + d / 122 * (plotRight - plotLeft); }
function yAbs(v){ return absBottom - (v + 0.1) / 3.1 * (absBottom - absTop); }
function ySca(v){ return scaBottom - (v + 0.9) / 30.9 * (scaBottom - scaTop); }
function mk(tag, attrs, parent){
  const el = document.createElementNS(SVGNS, tag);
  for (const k in attrs) el.setAttribute(k, attrs[k]);
  parent.appendChild(el);
  return el;
}
const panelA = document.getElementById("panelA");
const panelB = document.getElementById("panelB");

function drawPanel(parent, y, top, bottom, gridVals, thresholds, clipId){
  eventStarts.forEach(function(s, i){
    const r = mk("rect", {x:xScale(s), y:top, width:xScale(eventEnds[i])-xScale(s), height:bottom-top, fill:"#ff0000", "fill-opacity":.2, stroke:"#ff0000", "stroke-opacity":.27, "stroke-width":3}, parent);
    
    
  });
  xTickDays.slice(1,-1).forEach(function(d){
    const g = mk("line", {x1:xScale(d), x2:xScale(d), y1:top, y2:bottom, stroke:"#000", "stroke-opacity":.1, "stroke-width":2}, parent);
    
    
  });
  gridVals.forEach(function(v){
    const g = mk("line", {x1:plotLeft, x2:plotRight, y1:y(v), y2:y(v), stroke:"#000", "stroke-opacity":.1, "stroke-width":2}, parent);
    
    
  });
  const colors = ["#ff0000","#0000ff"];
  thresholds.forEach(function(v, i){
    const l = mk("line", {x1:plotLeft, x2:plotRight, y1:y(v), y2:y(v), stroke:colors[i], "stroke-width":3, "stroke-dasharray":"11 4.4"}, parent);
    
    
  });
  return mk("g", {"clip-path":"url(#"+clipId+")"}, parent);
}
function drawRings(g, days, vals, y){
  const n = Math.min(days.length, vals.length);
  for (let i = 0; i < n; i++){
    const c = mk("circle", {cx:xScale(days[i]), cy:y(vals[i]), r:5.7, fill:"none", stroke:"#ff0000", "stroke-width":3.4}, g);
    
    
  }
}
function drawDots(g, days, vals, y){
  const n = Math.min(days.length, vals.length);
  for (let i = 0; i < n; i++){
    const c = mk("circle", {cx:xScale(days[i]), cy:y(vals[i]), r:5.6, fill:"#0000ff"}, g);
    
    
  }
}
function axisFrame(parent, top, bottom){
  const s = mk("rect", {x:plotLeft, y:top, width:plotRight-plotLeft, height:bottom-top, fill:"none", stroke:"#000", "stroke-width":3}, parent);
  
  
}
function tick(parent, x1, y1, x2, y2, w){
  const t = mk("line", {x1:x1, y1:y1, x2:x2, y2:y2, stroke:"#000", "stroke-width":w}, parent);
  
  
}
function label(parent, txt, x, y, size, anchor, weight, name){
  const t = mk("text", {x:x, y:y, "font-size":size, "text-anchor":anchor, "font-weight":weight}, parent);
  t.textContent = txt;
  
  
  return t;
}
function yLabel(parent, sub, cy, name){
  const t = mk("text", {transform:"translate(47,"+cy+") rotate(-90)", "font-size":51, "text-anchor":"middle"}, parent);
  
  
  const a = mk("tspan", {"font-style":"italic"}, t); a.textContent = "\u03B2";
  const b = mk("tspan", {"font-size":36, dy:8}, t); b.textContent = sub;
  const c = mk("tspan", {dy:-8}, t); c.textContent = " [Mm";
  const d = mk("tspan", {"font-size":36, dy:-19}, t); d.textContent = "\u22121";
  const e = mk("tspan", {dy:19}, t); e.textContent = "]";
}

/* panel a */
const gA = drawPanel(panelA, yAbs, absTop, absBottom, [0,1,2], absThresholds, "clipA");
drawRings(gA, zepAbsDays, zepAbsVals, yAbs);
drawRings(gA, zepAbsExtraDays, zepAbsExtraVals, yAbs);
drawDots(gA, galAbsDays, galAbsVals, yAbs);
drawDots(gA, galAbsExtraDays, galAbsExtraVals, yAbs);
label(panelA, "a)", 160, 54, 41, "start", "normal", "panel-a-label");
for (let m = 0; m <= 15; m++){
  const v = m / 5;
  if (m % 5 === 0) tick(panelA, plotLeft-13, yAbs(v), plotLeft, yAbs(v), 2.6);
  else tick(panelA, plotLeft-7, yAbs(v), plotLeft, yAbs(v), 2);
}
absTicks.forEach(function(v){
  label(panelA, String(v), 130, yAbs(v)+15, 41.5, "end", "normal", "y-tick-label");
});
axisFrame(panelA, absTop, absBottom);
yLabel(panelA, "abs530", 213, "y-axis-title-absorption");
eventLabels.forEach(function(t, i){
  const px = [745,1529,1724][i];
  label(panelA, t, px, 78, 43, "start", "bold", "event-label-"+t.toLowerCase());
});

/* legend */
const legend = mk("g", {}, panelA);


mk("rect", {x:174, y:32, width:366, height:154, rx:6, fill:"#fff", "fill-opacity":.8, stroke:"#cccccc", "stroke-width":3}, legend);
const legRing = mk("circle", {cx:220.7, cy:59, r:5.7, fill:"none", stroke:"#ff0000", "stroke-width":3.4}, legend);


const legDot = mk("circle", {cx:220.7, cy:106.7, r:5.6, fill:"#0000ff"}, legend);


const legPatch = mk("rect", {x:187.5, y:142.5, width:66, height:25, fill:"#ff0000", "fill-opacity":.2, stroke:"#ff0000", "stroke-opacity":.27, "stroke-width":3}, legend);


label(legend, "ZEP", 280, 69.5, 33.1, "start", "normal", "legend-entry-zep");
label(legend, "GAL", 280, 117, 33.1, "start", "normal", "legend-entry-gal");
label(legend, "Surface events", 280, 166.5, 33.1, "start", "normal", "legend-entry-surface-events");

/* panel b */
const gB = drawPanel(panelB, ySca, scaTop, scaBottom, [0,10,20], scaThresholds, "clipB");
drawRings(gB, zepScaDays, zepScaVals, ySca);
drawRings(gB, zepScaExtraDays, zepScaExtraVals, ySca);
drawDots(gB, galScaDays, galScaVals, ySca);
drawDots(gB, galScaExtraDays, galScaExtraVals, ySca);
label(panelB, "b)", 160, 453, 41, "start", "normal", "panel-b-label");
for (let m = 0; m <= 15; m++){
  const v = m * 2;
  if (m % 5 === 0) tick(panelB, plotLeft-13, ySca(v), plotLeft, ySca(v), 2.6);
  else tick(panelB, plotLeft-7, ySca(v), plotLeft, ySca(v), 2);
}
scaTicks.forEach(function(v, i){
  label(panelB, scaTickLabels[i], 130, ySca(v)+15, 41.5, "end", "normal", "y-tick-label");
});
for (let d = 0; d <= 122; d++){
  if (xTickDays.indexOf(d) < 0) tick(panelB, xScale(d), scaBottom, xScale(d), scaBottom+8, 2);
}
xTickDays.forEach(function(d, i){
  tick(panelB, xScale(d), scaBottom, xScale(d), scaBottom+14, 2.6);
  label(panelB, xTickLabels[i], xScale(d), 865, 43, "middle", "normal", "x-tick-label");
});
axisFrame(panelB, scaTop, scaBottom);
yLabel(panelB, "sca530", 609, "y-axis-title-scattering");
label(panelB, "Date of 2019", 1077, 928, 51, "middle", "normal", "x-axis-title");
</script>
</body>
</html>
